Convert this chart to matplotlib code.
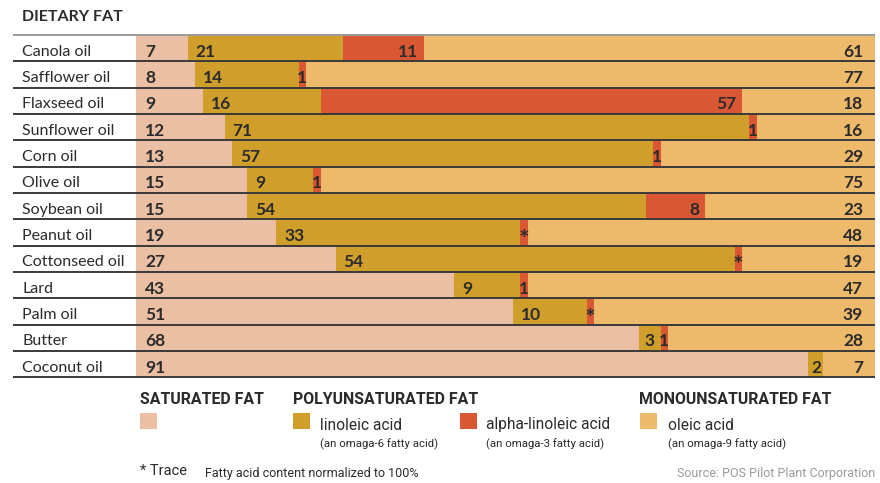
import matplotlib
matplotlib.use("Agg")
import matplotlib.pyplot as plt
from matplotlib.patches import Rectangle

oils = ["Canola oil", "Safflower oil", "Flaxseed oil", "Sunflower oil", "Corn oil",
        "Olive oil", "Soybean oil", "Peanut oil", "Cottonseed oil", "Lard",
        "Palm oil", "Butter", "Coconut oil"]
saturated = [7, 8, 9, 12, 13, 15, 15, 19, 27, 43, 51, 68, 91]
linoleic = [21, 14, 16, 71, 57, 9, 54, 33, 54, 9, 10, 3, 2]
# None marks a trace amount (shown as "*")
alpha_linolenic = [11, 1, 57, 1, 1, 1, 8, None, None, 1, None, 1, 0]
oleic = [61, 77, 18, 16, 29, 75, 23, 48, 19, 47, 39, 28, 7]

C_SAT = "#EABFA4"
C_LIN = "#D09E2B"
C_ALA = "#DA5734"
C_OLE = "#EDB96B"
TXT = "#2b2b2b"
TRACE_W = 1.0

W, H = 880, 483
fig = plt.figure(figsize=(W / 100, H / 100), dpi=100)
fig.patch.set_facecolor("white")

x0, x1 = 136, 875
y_top, y_bot = 35, 377.3
ax = fig.add_axes([x0 / W, 1 - y_bot / H, (x1 - x0) / W, (y_bot - y_top) / H])
ax.set_xlim(0, 100)
n = len(oils)
ax.set_ylim(n - 0.5, -0.5)
ax.axis("off")

px = 100 / (x1 - x0)  # data units per pixel
LBL_FONT = ["Lato", "DejaVu Sans"]
NUM_FONT = ["Lato", "DejaVu Sans"]
NUM_KW = dict(fontsize=12.5, fontweight="bold", color=TXT, va="center_baseline",
              family=NUM_FONT, clip_on=False)
STAR_KW = dict(fontsize=18, fontweight="bold", color=TXT, va="baseline",
               ha="center", family=NUM_FONT, clip_on=False)
DY = 0.08

for i, name in enumerate(oils):
    start = 0
    segs = [
        (saturated[i], C_SAT, "sat"),
        (linoleic[i], C_LIN, "lin"),
        (alpha_linolenic[i], C_ALA, "ala"),
        (oleic[i], C_OLE, "ole"),
    ]
    for val, col, kind in segs:
        trace = val is None
        w = TRACE_W if trace else val
        if w == 0:
            continue
        ax.add_patch(Rectangle((start, i - 0.5), w, 1.0, facecolor=col,
                               edgecolor="none", clip_on=True))
        if trace:
            ax.text(start + w / 2, i + 0.58, "*", **STAR_KW)
            start += w
            continue
        label = str(val)
        if kind == "sat":
            ax.text(start + 9 * px, i + DY, label, ha="left", **NUM_KW)
        elif kind == "lin":
            if w < 4:
                ax.text(start + w / 2, i + DY, label, ha="center", **NUM_KW)
            else:
                ax.text(start + 8 * px, i + DY, label, ha="left", **NUM_KW)
        elif kind == "ala":
            if w < 4:
                ax.text(start + w / 2, i + DY, label, ha="center", **NUM_KW)
            else:
                ax.text(start + w - 6 * px, i + DY, label, ha="right", **NUM_KW)
        else:
            ax.text(100 - 12 * px, i + DY, label, ha="right", **NUM_KW)
        start += w

    ax.text((22.5 - x0) * px / 100, i + DY, name, transform=ax.get_yaxis_transform(),
            ha="left", va="center_baseline", fontsize=11.5, color=TXT,
            family=LBL_FONT, clip_on=False)

# row separators
line_x0 = (13 - x0) / (x1 - x0)
for k in range(n + 1):
    y = k - 0.5
    col = "#9a9a9a" if k == 0 else "#3a3a3a"
    ax.plot([line_x0, 1.0], [y, y], transform=ax.get_yaxis_transform(),
            color=col, lw=1.4, clip_on=False, solid_capstyle="butt")

# title
fig.text(22 / W, 1 - 17 / H, "DIETARY FAT", fontsize=11.5, fontweight="bold",
         color=TXT, family=LBL_FONT, ha="left", va="center")

# legend
LEG_FONT = ["Roboto", "DejaVu Sans"]

def ftext(x, y, s, **kw):
    fig.text(x / W, 1 - y / H, s, family=LEG_FONT, color=TXT, **kw)

def swatch(x, y, col):
    fig.add_artist(Rectangle((x / W, 1 - (y + 16) / H), 17 / W, 16 / H,
                             facecolor=col, edgecolor="none",
                             transform=fig.transFigure))

ftext(140, 399, "SATURATED FAT", fontsize=11.4, fontweight="bold", va="center")
ftext(293, 399, "POLYUNSATURATED FAT", fontsize=11.4, fontweight="bold", va="center")
ftext(639, 399, "MONOUNSATURATED FAT", fontsize=11.4, fontweight="bold", va="center")

swatch(140, 413, C_SAT)
swatch(293, 413, C_LIN)
swatch(460, 413, C_ALA)
swatch(640, 413, C_OLE)

ftext(320, 425, "linoleic acid", fontsize=11.2, va="center")
ftext(486, 425, "alpha-linoleic acid", fontsize=11.2, va="center")
ftext(668, 425, "oleic acid", fontsize=11.2, va="center")
ftext(320, 444, "(an omaga-6 fatty acid)", fontsize=8.2, va="center")
ftext(486, 444, "(an omaga-3 fatty acid)", fontsize=8.2, va="center")
ftext(668, 444, "(an omaga-9 fatty acid)", fontsize=8.2, va="center")

ftext(140, 471, "* Trace", fontsize=10.5, va="center")
ftext(205, 473, "Fatty acid content normalized to 100%", fontsize=9, va="center")
fig.text(875 / W, 1 - 473 / H, "Source: POS Pilot Plant Corporation", family=LEG_FONT,
         color="#9a9a9a", fontsize=9, ha="right", va="center")

fig.savefig("out.png", dpi=100, facecolor="white")
